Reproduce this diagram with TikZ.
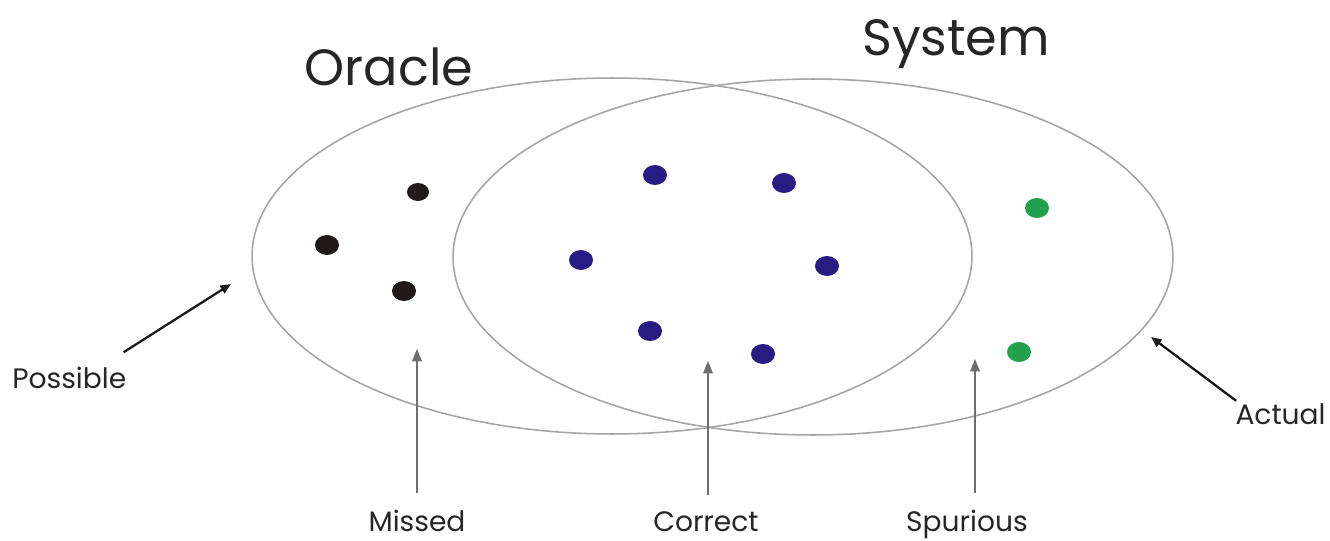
\documentclass[tikz,border=0pt]{standalone}
\usepackage{fontspec}
\setmainfont{Poppins}
\usetikzlibrary{arrows.meta,shapes.geometric}
\definecolor{ringgray}{RGB}{165,165,165}
\definecolor{stemgray}{RGB}{110,110,110}
\definecolor{dotblack}{RGB}{32,26,26}
\definecolor{dotblue}{RGB}{40,28,130}
\definecolor{dotgreen}{RGB}{34,160,78}

\begin{document}
\begin{tikzpicture}[x=0.02cm, y=-0.02cm,
    ring/.style={draw=ringgray, line width=0.9pt, ellipse, inner sep=0pt,
                 minimum width=14.4cm, minimum height=7.12cm},
    dot/.style={ellipse, fill=#1, draw=none, inner sep=0pt,
                minimum width=0.48cm, minimum height=0.4cm},
    title/.style={font=\fontsize{29}{32}\selectfont, text=black!85, inner sep=0pt, anchor=base},
    tag/.style={font=\fontsize{16}{19}\selectfont, text=black!85, inner sep=0pt, anchor=base},
    pointer/.style={-{Triangle[length=6pt, width=5pt]}, line width=1.3pt, black!90},
    stem/.style={-{Triangle[length=7pt, width=5.5pt]}, line width=0.7pt, stemgray}]
  \useasboundingbox (0,0) rectangle (1330,541);

  % the two sets
  \node[ring] (oracle) at (612,256) {};
  \node[ring] (system) at (813,257) {};
  \node[title] (oracletitle) at (389,85) {Oracle};
  \node[title] (systemtitle) at (956,55) {System};

  % items
  \node[dot=dotblack, minimum width=0.44cm, minimum height=0.36cm] (k1) at (418,192) {};
  \node[dot=dotblack] (k2) at (327,245) {};
  \node[dot=dotblack] (k3) at (404,291) {};
  \node[dot=dotblue] (b1) at (655,175) {};
  \node[dot=dotblue] (b2) at (784,183) {};
  \node[dot=dotblue] (b3) at (581,260) {};
  \node[dot=dotblue] (b4) at (827,266) {};
  \node[dot=dotblue] (b5) at (650,331) {};
  \node[dot=dotblue] (b6) at (763,354) {};
  \node[dot=dotgreen] (g1) at (1037,208) {};
  \node[dot=dotgreen] (g2) at (1019,352) {};

  % labels and pointers
  \node[tag, anchor=base west] (possible) at (12,388) {Possible};
  \node[tag, anchor=base east] (actual) at (1326,424) {Actual};
  \node[tag] (missed) at (417,531) {Missed};
  \node[tag] (correct) at (706,531) {Correct};
  \node[tag] (spurious) at (967,531) {Spurious};

  \coordinate (possibletip) at (231,284);
  \coordinate (actualtip) at (1151,337);
  \coordinate (missedtip) at (417,349);
  \coordinate (correcttip) at (708,361);
  \coordinate (spurioustip) at (975,359);

  \draw[pointer] ([shift={(-3,-14)}]possible.north east) -- (possibletip);
  \draw[pointer] ([shift={(1,-2)}]actual.north west) -- (actualtip);
  \draw[stem] ([yshift=9pt]missed.north) -- (missedtip);
  \draw[stem] ([yshift=9pt]correct.north -| correcttip) -- (correcttip);
  \draw[stem] ([yshift=9pt]spurious.north -| spurioustip) -- (spurioustip);
\end{tikzpicture}
\end{document}
